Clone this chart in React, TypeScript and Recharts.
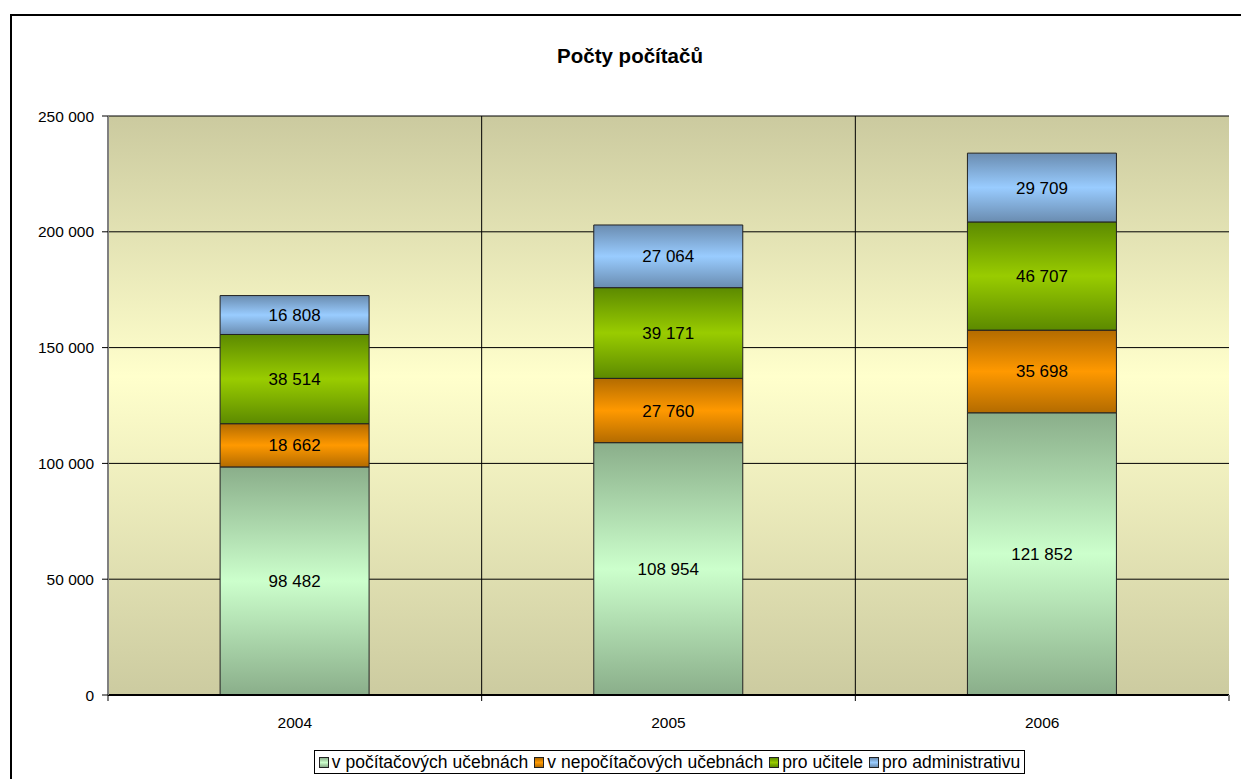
import React from "react";
import {
  Bar,
  BarChart,
  CartesianGrid,
  LabelList,
  Legend,
  XAxis,
  YAxis,
} from "recharts";

const years = ["2004", "2005", "2006"];
const pocitacoveUcebny = [98482, 108954, 121852];
const nepocitacoveUcebny = [18662, 27760, 35698];
const proUcitele = [38514, 39171, 46707];
const proAdministrativu = [16808, 27064, 29709];
const yTicks = [0, 50000, 100000, 150000, 200000, 250000];

const seriesInfo = [
  { key: "s1", name: "v počítačových učebnách", dark: "#8aae8a", light: "#ccffcc" },
  { key: "s2", name: "v nepočítačových učebnách", dark: "#b36b00", light: "#ff9900" },
  { key: "s3", name: "pro učitele", dark: "#5c8a00", light: "#99cc00" },
  { key: "s4", name: "pro administrativu", dark: "#6a8cb0", light: "#99ccff" },
];

const data = years.map((year, i) => ({
  year,
  s1: pocitacoveUcebny[i],
  s2: nepocitacoveUcebny[i],
  s3: proUcitele[i],
  s4: proAdministrativu[i],
}));

const W = 1241;
const H = 779;
const margin = { top: 116, right: 12, bottom: 44, left: 8 };
const Y_AXIS_W = 100;
const X_AXIS_H = 40;
const plotLeft = margin.left + Y_AXIS_W;
const plotWidth = W - margin.right - plotLeft;
const band = plotWidth / years.length;
const FONT = '"Liberation Sans", Arial, sans-serif';

const fmt = (v: number) => String(v).replace(/\B(?=(\d{3})+(?!\d))/g, " ");

const YearTick = (props: any) => {
  const { x, y, payload, index } = props;
  const axisY = y - 22;
  return (
    <g>
      <line x1={x - band / 2} x2={x - band / 2} y1={axisY} y2={axisY + 6} stroke="#000" />
      {index === years.length - 1 && (
        <line x1={x + band / 2} x2={x + band / 2} y1={axisY} y2={axisY + 6} stroke="#808080" strokeWidth={2} />
      )}
      <text x={x} y={y} dy="0.71em" textAnchor="middle" fill="#000" fontSize={15.5} fontFamily={FONT}>
        {payload.value}
      </text>
    </g>
  );
};

const LegendBox = () => (
  <div style={{ display: "flex", justifyContent: "center", paddingLeft: 98 }}>
    <div
      style={{
        display: "flex",
        alignItems: "center",
        border: "1px solid #000",
        background: "#fff",
        height: 22,
        padding: "0 4px 0 4px",
        fontFamily: FONT,
        fontSize: 17.5,
        color: "#000",
        whiteSpace: "nowrap",
      }}
    >
      {seriesInfo.map((s, i) => (
        <span
          key={s.key}
          style={{ display: "flex", alignItems: "center", marginRight: i === seriesInfo.length - 1 ? 0 : 6 }}
        >
          <span
            style={{
              display: "inline-block",
              width: 8,
              height: 9,
              border: "1px solid #222",
              background: `linear-gradient(${s.dark}, ${s.light}, ${s.dark})`,
              marginRight: 3,
            }}
          />
          {s.name}
        </span>
      ))}
    </div>
  </div>
);

export default function App() {
  return (
    <div style={{ position: "absolute", left: 0, top: 0, width: W, height: H, overflow: "hidden", background: "#fff" }}>
      <div
        style={{
          position: "absolute",
          left: 10,
          top: 14,
          width: W,
          height: H,
          border: "2px solid #000",
          boxSizing: "border-box",
        }}
      />
      <div
        style={{
          position: "absolute",
          left: 0,
          top: 44,
          width: 1260,
          textAlign: "center",
          fontFamily: FONT,
          fontWeight: "bold",
          fontSize: 20.5,
          color: "#000",
        }}
      >
        Počty počítačů
      </div>
      <div style={{ position: "absolute", left: 0, top: 0 }}>
        <BarChart width={W} height={H} data={data} margin={margin} barCategoryGap="30%">
          <defs>
            <linearGradient id="bg" x1="0" y1="0" x2="0" y2="1">
              <stop offset="0%" stopColor="#cbca9f" />
              <stop offset="45%" stopColor="#ffffcc" />
              <stop offset="100%" stopColor="#cccba0" />
            </linearGradient>
            {seriesInfo.map((s) => (
              <linearGradient key={s.key} id={`g-${s.key}`} x1="0" y1="0" x2="0" y2="1">
                <stop offset="0%" stopColor={s.dark} />
                <stop offset="50%" stopColor={s.light} />
                <stop offset="100%" stopColor={s.dark} />
              </linearGradient>
            ))}
          </defs>
          <CartesianGrid
            fill="url(#bg)"
            stroke="#000"
            verticalCoordinatesGenerator={({ offset }: any) =>
              years.slice(1).map((_, i) => offset.left + ((i + 1) * offset.width) / years.length)
            }
          />
          <XAxis
            dataKey="year"
            height={X_AXIS_H}
            axisLine={{ stroke: "#000", strokeWidth: 2 }}
            tickLine={false}
            tickSize={6}
            tickMargin={16}
            tick={<YearTick />}
            interval={0}
          />
          <XAxis
            xAxisId="top"
            dataKey="year"
            orientation="top"
            height={0}
            tick={false}
            tickLine={false}
            axisLine={{ stroke: "#808080", strokeWidth: 2 }}
          />
          <YAxis
            width={Y_AXIS_W}
            domain={[0, 250000]}
            ticks={yTicks}
            tickFormatter={fmt}
            axisLine={{ stroke: "#808080", strokeWidth: 2 }}
            tickLine={{ stroke: "#000" }}
            tickSize={6}
            tickMargin={8}
            tick={{ fill: "#000", fontSize: 15.5, fontFamily: FONT }}
            interval={0}
          />
          <YAxis
            yAxisId="right"
            orientation="right"
            width={0}
            domain={[0, 250000]}
            tick={false}
            tickLine={false}
            axisLine={{ stroke: "#808080", strokeWidth: 2 }}
          />
          <Legend
            layout="horizontal"
            verticalAlign="middle"
            align="center"
            content={<LegendBox />}
            wrapperStyle={{ top: 750, left: 0, width: W, height: 24 }}
          />
          {seriesInfo.map((s) => (
            <Bar
              key={s.key}
              dataKey={s.key}
              name={s.name}
              stackId="a"
              fill={`url(#g-${s.key})`}
              stroke="#222"
              strokeWidth={1}
              isAnimationActive={false}
            >
              <LabelList
                dataKey={s.key}
                position="center"
                formatter={(v: any) => fmt(Number(v))}
                fill="#000"
                fontSize={17}
                fontFamily={FONT}
              />
            </Bar>
          ))}
        </BarChart>
      </div>
    </div>
  );
}
